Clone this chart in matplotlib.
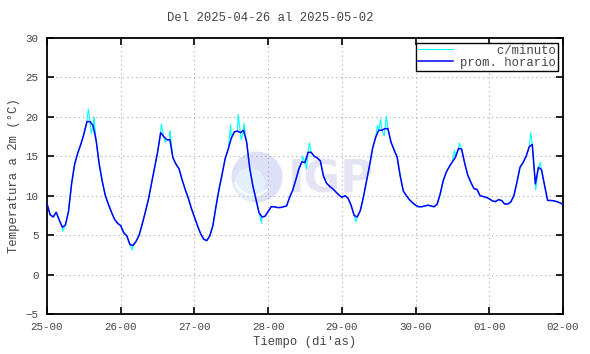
import numpy as np
import matplotlib
matplotlib.use("Agg")
import matplotlib.pyplot as plt
import matplotlib.patches as patches

# hourly mean temperature, 25-00 .. 02-00 (169 values)
temp_horario = [
    9.0, 7.6, 7.3, 7.9, 6.9, 6.0, 6.3, 8.0, 11.5, 14.0, 15.4, 16.5, 17.8, 19.4, 19.4, 18.9,
    17.0, 14.0, 11.8, 10.0, 8.9, 7.9, 7.0, 6.5,
    6.2, 5.3, 4.9, 3.8, 3.7, 4.2, 5.0, 6.4, 7.9, 9.5, 11.5, 13.5, 15.5, 18.0, 17.5, 17.1,
    17.1, 14.8, 14.0, 13.4, 12.0, 10.8, 9.7, 8.4,
    7.3, 6.2, 5.2, 4.5, 4.3, 4.9, 6.2, 8.6, 10.8, 12.7, 14.7, 15.9, 17.3, 18.1, 18.2, 18.0,
    18.3, 16.8, 13.5, 11.3, 9.6, 7.9, 7.3, 7.4,
    8.0, 8.6, 8.6, 8.5, 8.5, 8.6, 8.7, 9.8, 10.7, 12.0, 13.4, 14.3, 14.2, 15.5, 15.5, 15.0,
    14.8, 14.4, 12.5, 11.6, 11.2, 10.9, 10.5, 10.1,
    9.8, 10.0, 9.7, 8.8, 7.5, 7.3, 8.1, 9.8, 11.8, 13.8, 16.0, 17.4, 18.3, 18.3, 18.5, 18.5,
    16.8, 15.8, 14.9, 12.5, 10.6, 10.0, 9.5, 9.1,
    8.8, 8.6, 8.6, 8.7, 8.8, 8.7, 8.6, 8.9, 10.2, 11.9, 13.0, 13.7, 14.3, 14.9, 16.0, 15.9,
    14.1, 12.6, 11.7, 10.9, 10.8, 10.0, 9.9, 9.8,
    9.6, 9.35, 9.25, 9.5, 9.4, 8.95, 8.95, 9.2, 10.0, 11.7, 13.6, 14.2, 15.0, 16.2, 16.5, 11.5,
    13.6, 13.3, 11.3, 9.4, 9.4, 9.35, 9.25, 9.1,
    8.9,
]

# per-minute excursions visible above/below the hourly line
pico_h = [5.1, 13.2, 13.5, 14.4, 15.3, 27.8, 37.2, 38.5, 40.0, 59.8, 62.2, 63.2, 64.1,
          69.9, 83.2, 84.5, 85.4, 100.6, 107.6, 108.6, 109.8, 110.5, 132.7, 134.2,
          157.5, 159.1, 160.6]
pico_v = [5.5, 20.2, 21.0, 17.9, 20.0, 3.1, 19.1, 16.8, 18.2, 19.0, 20.3, 17.1, 19.2,
          6.5, 15.0, 13.4, 16.7, 6.7, 18.9, 19.7, 17.6, 20.1, 15.8, 16.7,
          18.0, 10.8, 14.2]

dias = ["25-00", "26-00", "27-00", "28-00", "29-00", "30-00", "01-00", "02-00"]

horas = np.arange(len(temp_horario))
t_min = np.concatenate([horas, pico_h])
v_min = np.concatenate([temp_horario, pico_v])
orden = np.argsort(t_min, kind="stable")
t_min, v_min = t_min[orden], v_min[orden]

plt.rcParams["font.family"] = ["Liberation Mono", "DejaVu Sans Mono"]

fig = plt.figure(figsize=(5.9, 3.54), dpi=100)
ax = fig.add_axes([47 / 590, 1 - 314 / 354, 516 / 590, 276 / 354])

# IGP watermark
ax.add_patch(patches.Ellipse((0.407, 0.496), 0.099, 0.185, transform=ax.transAxes,
                             facecolor="#dde0f6", edgecolor="none", zorder=0.5))
ax.add_patch(patches.Ellipse((0.393, 0.47), 0.06, 0.12, transform=ax.transAxes,
                             facecolor="#e3f0fb", edgecolor="none", zorder=0.55))
for r, a1, a2 in [(0.16, 200, 290), (0.11, 20, 110), (0.07, 210, 300)]:
    ax.add_patch(patches.Arc((0.40, 0.50), 2 * r * 276 / 516, 2 * r,
                             theta1=a1, theta2=a2, transform=ax.transAxes,
                             color="white", lw=1.3, zorder=0.6))
ax.text(0.467, 0.442, "IGP", transform=ax.transAxes, fontsize=32, fontweight="bold",
        family="DejaVu Sans", color="#e4e4f5", ha="left", va="baseline", zorder=0.5)

ax.plot(t_min, v_min, color="#00ffff", lw=0.8, label="     c/minuto", zorder=2)
ax.plot(horas, temp_horario, color="#0000ff", lw=1.1, label="prom. horario", zorder=3)

ax.set_xlim(0, 168)
ax.set_ylim(-5, 30)
ax.set_xticks(np.arange(0, 169, 24))
ax.set_xticklabels(dias)
ax.set_yticks(np.arange(-5, 31, 5))
ax.tick_params(direction="in", length=5, width=1.2, top=True, right=True,
               labelsize=7.8, colors="black", pad=6)
ax.tick_params(axis="x", labelcolor="#444444")
ax.tick_params(axis="y", labelcolor="#444444")
ax.grid(True, color="#aaaaaa", linestyle=(0, (1, 3)), lw=0.8)
for s in ax.spines.values():
    s.set_linewidth(1.3)

ax.set_xlabel("Tiempo (di'as)", fontsize=8.8, color="#444444", labelpad=3)
ax.set_ylabel("Temperatura a 2m (°C)", fontsize=8.8, color="#444444", labelpad=4)
fig.text(270 / 590, 1 - 18 / 354, "Del 2025-04-26 al 2025-05-02", ha="center",
         va="center", fontsize=8.8, color="#444444")

leg = ax.legend(loc="upper right", fontsize=8.8, frameon=True, fancybox=False,
                handlelength=2.9, handletextpad=0.6, labelspacing=0.0,
                borderpad=0.15, borderaxespad=0.4)
leg.get_frame().set_edgecolor("black")
leg.get_frame().set_linewidth(1.0)
leg.get_frame().set_alpha(1)
for t in leg.get_texts():
    t.set_color("#444444")

fig.savefig("out.png", dpi=100)
